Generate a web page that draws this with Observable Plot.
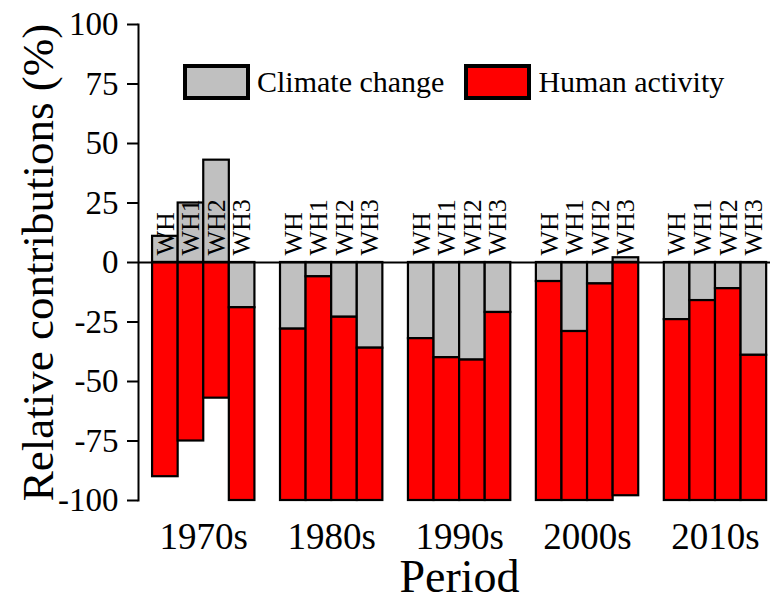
<!DOCTYPE html>
<html>
<head>
<meta charset="utf-8">
<script src="https://cdn.jsdelivr.net/npm/d3@7"></script>
<script src="https://cdn.jsdelivr.net/npm/@observablehq/plot@0.6"></script>
<style>
  body { margin: 0; background: #fff; }
  #chart { position: relative; width: 770px; height: 599px; }
  #legend { position: absolute; left: 185px; top: 65px; }
  #legend div, #legend span {
    font-family: "Liberation Serif", "Times New Roman", serif !important;
    font-size: 30px !important;
    color: #000 !important;
  }
  #legend span { margin-right: 22px !important; align-items: center; }
  #legend svg { margin-right: 9px !important; overflow: visible; }
  #legend svg rect { stroke: #000; stroke-width: 4px; }
</style>
</head>
<body>
<div id="chart"><div id="legend"></div></div>
<script>
// Decades and gauging stations
const periods = ["1970s", "1980s", "1990s", "2000s", "2010s"];
const stations = ["WH", "WH1", "WH2", "WH3"];

// Relative contribution (%) of climate change, per decade × station
const climate = [
  [11, 25, 43, -19],
  [-28, -6, -23, -36],
  [-32, -40, -41, -21],
  [-8, -29, -9, 2],
  [-24, -16, -11, -39]
];

// Relative contribution (%) of human activity, per decade × station
const human = [
  [-90, -75, -57, -81],
  [-72, -94, -77, -64],
  [-68, -60, -59, -79],
  [-92, -71, -91, -98],
  [-76, -84, -89, -61]
];

const sources = ["Climate change", "Human activity"];
const sourceColors = ["#c0c0c0", "#ff0000"];
const yTicks = [100, 75, 50, 25, 0, -25, -50, -75, -100];

// Each decade takes four station slots plus one empty slot as a gap
const slotsPerPeriod = stations.length + 1;
const rows = [];
periods.forEach((period, i) => {
  stations.forEach((station, j) => {
    const slot = i * slotsPerPeriod + j;
    const c = climate[i][j];
    const h = human[i][j];
    const base = Math.min(c, 0); // human part stacks below a negative climate part
    rows.push({period, station, slot, source: sources[0], y1: 0, y2: c});
    rows.push({period, station, slot, source: sources[1], y1: base, y2: base + h});
  });
});
const stationLabels = rows.filter(d => d.source === sources[0]);
const periodTicks = periods.map((p, i) => i * slotsPerPeriod + stations.length / 2);

const chart = Plot.plot({
  width: 770,
  height: 599,
  marginTop: 24,
  marginBottom: 99,
  marginLeft: 138,
  marginRight: 0,
  style: {fontFamily: "'Liberation Serif', 'Times New Roman', serif", background: "#fff", color: "#000"},
  x: {type: "linear", domain: [-0.55, 24.15], axis: null},
  y: {domain: [-100, 100], axis: null},
  color: {domain: sources, range: sourceColors},
  marks: [
    Plot.rect(rows, {
      x1: "slot", x2: d => d.slot + 1, y1: "y1", y2: "y2",
      fill: "source", stroke: "#000", strokeWidth: 2.2
    }),
    Plot.ruleY([0], {stroke: "#000", strokeWidth: 2}),
    Plot.text(stationLabels, {
      x: d => d.slot + 0.5, y: () => 0, text: "station",
      rotate: -90, textAnchor: "start", lineAnchor: "middle",
      dy: -7, fontSize: 26, fill: "#000"
    }),
    Plot.axisY({
      ticks: yTicks, tickFormat: d => String(d), tickSize: 11, tickPadding: 9,
      fontSize: 33, strokeWidth: 2, label: null
    }),
    Plot.frame({anchor: "left", stroke: "#000", strokeWidth: 2}),
    Plot.axisX({
      ticks: periodTicks, tickFormat: d => periods[Math.round((d - 2) / slotsPerPeriod)],
      tickSize: 0, tickPadding: 22, fontSize: 37, label: null
    }),
    Plot.text(["Relative contributions (%)"], {
      frameAnchor: "left", rotate: -90, textAnchor: "middle", lineAnchor: "middle",
      dx: -100, fontSize: 45, fill: "#000"
    }),
    Plot.text(["Period"], {
      frameAnchor: "bottom", lineAnchor: "middle", dx: 5, dy: 77, fontSize: 46, fill: "#000"
    })
  ]
});

const legend = Plot.legend({
  color: {domain: sources, range: sourceColors},
  legend: "swatches",
  swatchWidth: 63,
  swatchHeight: 32
});

const container = document.getElementById("chart");
container.insertBefore(chart, container.firstChild);
document.getElementById("legend").appendChild(legend);
</script>
</body>
</html>
